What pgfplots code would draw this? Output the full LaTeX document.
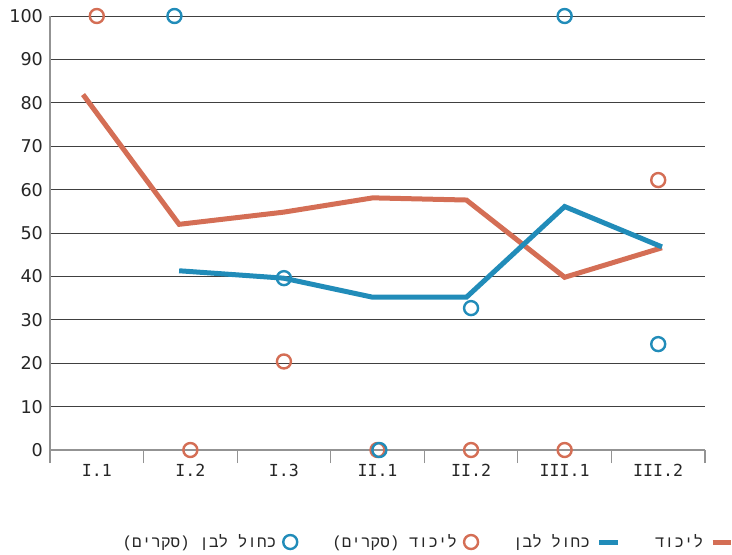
\documentclass[border=0pt]{standalone}
\usepackage{pgfplots}
\pgfplotsset{compat=1.18}
\usepackage{fontspec}
\setmainfont{DejaVu Sans}
\newfontfamily\monofont{DejaVu Sans Mono}
\newfontfamily\hebfont[Script=Hebrew]{Liberation Mono}
\TeXXeTstate=1
\definecolor{likud}{HTML}{D46E55}
\definecolor{kl}{HTML}{218CB9}
\begin{document}
\begin{tikzpicture}
\useasboundingbox (0,0) rectangle (366pt,277pt);
\begin{axis}[
  at={(25pt,52pt)}, anchor=south west,
  scale only axis, width=327.5pt, height=217pt,
  xmin=-0.5, xmax=6.5, ymin=0, ymax=100,
  axis x line*=bottom, axis y line*=left,
  axis line style={-, draw=gray!85, line width=0.75pt},
  xtick={0,...,6},
  xticklabels={I.1,I.2,I.3,II.1,II.2,III.1,III.2},
  minor xtick={-0.5,0.5,...,6.5},
  major tick length=0pt,
  minor tick length=6.5pt,
  tick align=outside,
  major tick style={draw=none},
  minor tick style={draw=gray!85, line width=0.6pt},
  ytick={0,10,...,100},
  ymajorgrids, grid style={draw=black!75, line width=0.5pt},
  /pgf/number format/assume math mode=true,
  x tick label style={font=\monofont\fontsize{8.3}{10}\selectfont, yshift=-3.5pt, text=black!85},
  y tick label style={font=\fontsize{8.8}{10}\selectfont, text=black!85},
  clip=false,
  legend plot pos=right,
  reverse legend,
  legend columns=4,
  legend style={at={(0.095,-0.212)}, anchor=west, draw=none, fill=none,
    font=\hebfont\fontsize{8.0}{10}\selectfont, text=black!85,
    /tikz/every odd column/.append style={column sep=1.5pt},
    /tikz/every even column/.append style={column sep=15.5pt}},
  legend image code/.code={\draw[mark repeat=2,mark phase=2,#1] plot coordinates {(0cm,0cm) (0.16cm,0cm) (0.32cm,0cm)};},
]
\addplot[likud, line width=2.5pt, no marks] coordinates {
(-0.147,81.9) (0.88,52.0) (1.995,54.8) (2.95,58.1) (3.95,57.6) (5.0,39.8) (6.04,46.6)};
\addlegendentry{\beginR ליכוד\endR}
\addplot[kl, line width=2.5pt, no marks] coordinates {
(0.88,41.3) (1.995,39.6) (2.95,35.2) (3.95,35.2) (5.0,56.1) (6.04,46.8)};
\addlegendentry{\beginR כחול לבן\endR}
\addplot[likud, only marks, mark=o, mark size=3.5pt, line width=1.2pt] coordinates {
(0,100) (1,0) (2,20.4) (3,0) (4,0) (5,0) (6,62.2)};
\addlegendentry{\beginR ליכוד (סקרים)\endR}
\addplot[kl, only marks, mark=o, mark size=3.5pt, line width=1.2pt] coordinates {
(0.83,100) (2,39.6) (3.02,0) (4,32.7) (5,100) (6,24.4)};
\addlegendentry{\beginR כחול לבן (סקרים)\endR}
\end{axis}
\end{tikzpicture}
\end{document}
